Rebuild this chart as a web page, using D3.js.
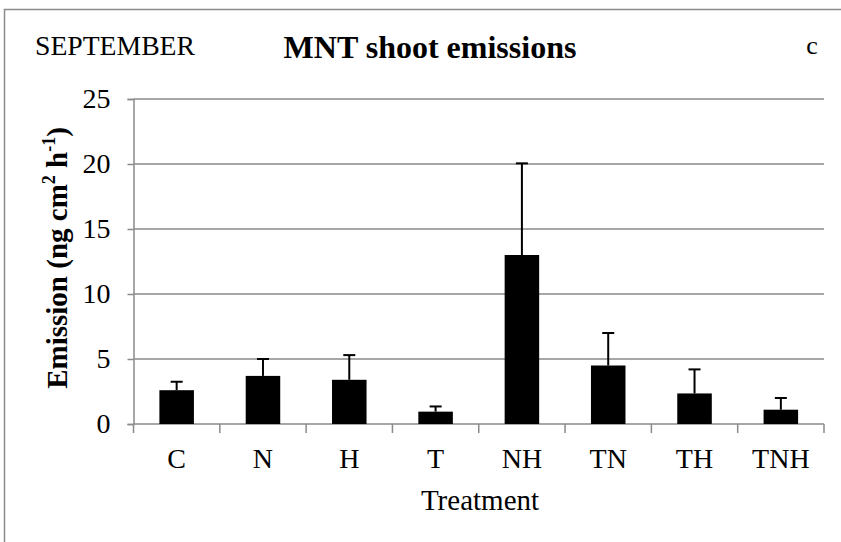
<!DOCTYPE html>
<html>
<head>
<meta charset="utf-8">
<script src="https://cdn.jsdelivr.net/npm/d3@7"></script>
<style>
  html, body { margin: 0; padding: 0; background: #fff; }
  svg { display: block; font-family: "Liberation Serif", "Times New Roman", serif; }
</style>
</head>
<body>
<svg id="chart" width="841" height="542"></svg>
<script>
// Treatment means and standard errors (ng cm^-2 h^-1)
const treatments = ["C", "N", "H", "T", "NH", "TN", "TH", "TNH"];
const emission   = [2.6, 3.7, 3.4, 0.95, 13.0, 4.5, 2.35, 1.1];
const errorUpper = [0.65, 1.3, 1.9, 0.4, 7.05, 2.5, 1.85, 0.9];
const yTicks     = [0, 5, 10, 15, 20, 25];

(function drawChart() {
  const svg = d3.select("#chart");
  const gridColor = "#8a8a8a";

  // outer chart frame
  svg.append("rect")
    .attr("x", 4.5).attr("y", 9.5)
    .attr("width", 860).attr("height", 560)
    .attr("fill", "none").attr("stroke", gridColor).attr("stroke-width", 1.5);

  const plotLeft = 133.5, plotRight = 824, plotTop = 99, plotBottom = 424;

  const x = d3.scaleBand().domain(treatments).range([plotLeft, plotRight])
    .paddingInner(0.6).paddingOuter(0.3);
  const y = d3.scaleLinear().domain([0, 25]).range([plotBottom, plotTop]);

  // horizontal gridlines
  svg.append("g").selectAll("line").data(yTicks.filter(d => d > 0)).join("line")
    .attr("x1", plotLeft).attr("x2", plotRight)
    .attr("y1", d => y(d)).attr("y2", d => y(d))
    .attr("stroke", gridColor).attr("stroke-width", 1.5);

  // y axis
  const yAxis = svg.append("g").attr("transform", `translate(${plotLeft},0)`)
    .call(d3.axisLeft(y).tickValues(yTicks).tickSize(6).tickPadding(17).tickFormat(d3.format("d")));
  yAxis.select(".domain").attr("stroke", gridColor).attr("stroke-width", 1.5);
  yAxis.selectAll(".tick line").attr("stroke", gridColor).attr("stroke-width", 1.5);
  yAxis.selectAll(".tick text")
    .attr("font-family", "Liberation Serif, serif").attr("font-size", 28).attr("fill", "#000");

  // x axis: ticks sit at category boundaries
  const step = x.step();
  const boundaries = d3.range(treatments.length + 1).map(i => plotLeft + i * step);
  svg.append("line")
    .attr("x1", plotLeft).attr("x2", plotRight).attr("y1", plotBottom).attr("y2", plotBottom)
    .attr("stroke", gridColor).attr("stroke-width", 1.5);
  svg.append("g").selectAll("line").data(boundaries).join("line")
    .attr("x1", d => d).attr("x2", d => d)
    .attr("y1", plotBottom).attr("y2", plotBottom + 9)
    .attr("stroke", gridColor).attr("stroke-width", 1.5);
  svg.append("g").selectAll("text").data(treatments).join("text")
    .attr("x", d => x(d) + x.bandwidth() / 2)
    .attr("y", 468)
    .attr("text-anchor", "middle")
    .attr("font-size", 28)
    .text(d => d);

  // bars
  svg.append("g").selectAll("rect").data(treatments).join("rect")
    .attr("x", d => x(d))
    .attr("width", x.bandwidth())
    .attr("y", (d, i) => y(emission[i]))
    .attr("height", (d, i) => y(0) - y(emission[i]))
    .attr("fill", "#000");

  // upper error bars
  const err = svg.append("g").attr("stroke", "#000").attr("stroke-width", 2);
  treatments.forEach((d, i) => {
    const cx = x(d) + x.bandwidth() / 2;
    const yEnd = y(emission[i] + errorUpper[i]);
    err.append("line").attr("x1", cx).attr("x2", cx)
      .attr("y1", y(emission[i])).attr("y2", yEnd);
    err.append("line").attr("x1", cx - 6).attr("x2", cx + 6)
      .attr("y1", yEnd).attr("y2", yEnd);
  });

  // titles
  svg.append("text").attr("x", 35).attr("y", 55)
    .attr("font-size", 28).attr("textLength", 160).attr("lengthAdjust", "spacingAndGlyphs")
    .text("SEPTEMBER");
  svg.append("text").attr("x", 430).attr("y", 58)
    .attr("text-anchor", "middle")
    .attr("font-size", 32).attr("font-weight", "bold")
    .text("MNT shoot emissions");
  svg.append("text").attr("x", 812).attr("y", 54)
    .attr("text-anchor", "middle")
    .attr("font-size", 26).text("c");

  // axis titles
  svg.append("text").attr("x", 480).attr("y", 510)
    .attr("text-anchor", "middle").attr("font-size", 29).text("Treatment");

  const yt = svg.append("text")
    .attr("transform", "translate(67,258) rotate(-90)")
    .attr("text-anchor", "middle")
    .attr("font-size", 29).attr("font-weight", "bold");
  yt.append("tspan").text("Emission (ng cm");
  yt.append("tspan").attr("font-size", 18).attr("dy", -12).text("2");
  yt.append("tspan").attr("dy", 12).text(" h");
  yt.append("tspan").attr("font-size", 18).attr("dy", -12).text("-1");
  yt.append("tspan").attr("dy", 12).text(")");
})();
</script>
</body>
</html>
